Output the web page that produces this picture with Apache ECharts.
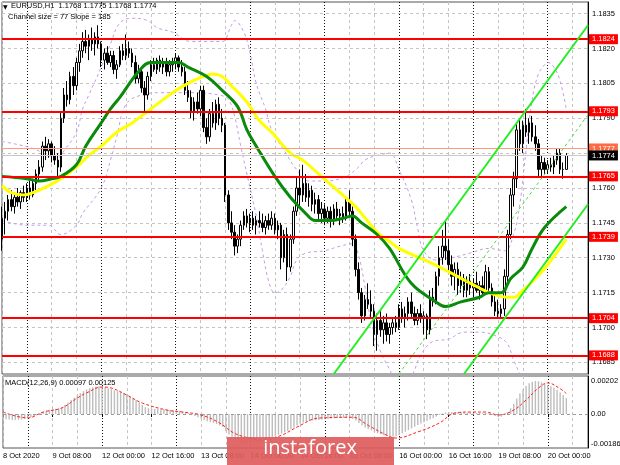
<!DOCTYPE html>
<html><head><meta charset="utf-8">
<script src="https://cdn.jsdelivr.net/npm/echarts@6/dist/echarts.min.js"></script>
<style>html,body{margin:0;padding:0;background:#fff}#c{width:620px;height:465px}</style>
</head><body><div id="c"></div>
<script>
// ---------- categories (hourly H1 bars) ----------
const days = [['8 Oct',16,23],['9 Oct',0,23],['12 Oct',0,23],['13 Oct',0,23],['14 Oct',0,23],['15 Oct',0,23],['16 Oct',0,23],['19 Oct',0,23],['20 Oct',0,13]];
const categories = [];
days.forEach(d => { for (let h = d[1]; h <= d[2]; h++) categories.push(d[0] + ' ' + (h < 10 ? '0' : '') + h + ':00'); });
const xTickLabels = ['8 Oct 2020','9 Oct 08:00','12 Oct 00:00','12 Oct 16:00','13 Oct 08:00','14 Oct 00:00','14 Oct 16:00','15 Oct 08:00','16 Oct 00:00','16 Oct 16:00','19 Oct 08:00','20 Oct 00:00'];

// ---------- OHLC ----------
const open = [
1.1738,1.1747,1.1750,1.1755,1.1752,1.1756,1.1754,1.1758,1.1756,1.1760,
1.1757,1.1762,1.1766,1.1769,1.1778,1.1776,1.1779,1.1774,1.1772,1.1769,
1.1790,1.1800,1.1798,1.1808,1.1804,1.1814,1.1819,1.1823,1.1821,1.1824,
1.1822,1.1825,1.1822,1.1815,1.1818,1.1814,1.1817,1.1811,1.1813,1.1819,
1.1817,1.1820,1.1818,1.1814,1.1807,1.1810,1.1803,1.1800,1.1808,1.1813,
1.1811,1.1815,1.1812,1.1814,1.1810,1.1813,1.1814,1.1816,1.1812,1.1810,
1.1802,1.1799,1.1793,1.1797,1.1794,1.1802,1.1786,1.1782,1.1792,1.1788,
1.1796,1.1790,1.1787,1.1757,1.1745,1.1741,1.1735,1.1738,1.1744,1.1748,
1.1745,1.1747,1.1744,1.1746,1.1745,1.1743,1.1746,1.1744,1.1747,1.1742,
1.1744,1.1730,1.1740,1.1726,1.1738,1.1750,1.1760,1.1757,1.1762,1.1756,
1.1759,1.1753,1.1755,1.1749,1.1751,1.1747,1.1750,1.1746,1.1751,1.1748,
1.1749,1.1747,1.1754,1.1750,1.1738,1.1725,1.1715,1.1705,1.1712,1.1710,
1.1707,1.1697,1.1703,1.1699,1.1702,1.1697,1.1700,1.1702,1.1700,1.1708,
1.1704,1.1706,1.1711,1.1706,1.1703,1.1706,1.1704,1.1705,1.1699,1.1713,
1.1711,1.1722,1.1730,1.1735,1.1733,1.1727,1.1722,1.1725,1.1718,1.1721,
1.1716,1.1720,1.1717,1.1719,1.1716,1.1718,1.1715,1.1724,1.1717,1.1711,
1.1707,1.1706,1.1708,1.1722,1.1740,1.1757,1.1764,1.1785,1.1779,1.1787,
1.1784,1.1788,1.1782,1.1779,1.1768,1.1771,1.1768,1.1770,1.1769,1.1772,
1.1775,1.1768,1.1768];
const high = [
1.1752,1.1754,1.1757,1.1759,1.1758,1.1760,1.1759,1.1761,1.1762,1.1763,
1.1764,1.1768,1.1772,1.1780,1.1782,1.1781,1.1780,1.1778,1.1775,1.1793,
1.1803,1.1806,1.1810,1.1812,1.1816,1.1822,1.1827,1.1828,1.1826,1.1829,
1.1827,1.1830,1.1823,1.1820,1.1821,1.1819,1.1819,1.1815,1.1821,1.1822,
1.1826,1.1823,1.1820,1.1817,1.1813,1.1812,1.1806,1.1810,1.1815,1.1816,
1.1816,1.1817,1.1816,1.1816,1.1815,1.1816,1.1818,1.1817,1.1815,1.1812,
1.1806,1.1802,1.1799,1.1801,1.1804,1.1804,1.1790,1.1794,1.1797,1.1798,
1.1799,1.1794,1.1788,1.1759,1.1750,1.1744,1.1740,1.1746,1.1750,1.1751,
1.1749,1.1750,1.1748,1.1750,1.1749,1.1748,1.1749,1.1750,1.1749,1.1746,
1.1745,1.1742,1.1743,1.1740,1.1752,1.1765,1.1768,1.1770,1.1766,1.1762,
1.1761,1.1758,1.1757,1.1754,1.1753,1.1752,1.1752,1.1753,1.1754,1.1751,
1.1752,1.1756,1.1759,1.1752,1.1740,1.1728,1.1717,1.1714,1.1719,1.1716,
1.1710,1.1706,1.1707,1.1705,1.1706,1.1702,1.1704,1.1705,1.1710,1.1711,
1.1709,1.1713,1.1715,1.1709,1.1708,1.1710,1.1707,1.1706,1.1716,1.1717,
1.1724,1.1735,1.1742,1.1746,1.1738,1.1731,1.1728,1.1728,1.1724,1.1723,
1.1722,1.1723,1.1721,1.1724,1.1720,1.1722,1.1727,1.1726,1.1719,1.1714,
1.1712,1.1710,1.1725,1.1742,1.1760,1.1767,1.1788,1.1790,1.1789,1.1794,
1.1790,1.1791,1.1787,1.1781,1.1774,1.1773,1.1772,1.1773,1.1774,1.1777,
1.1777,1.1771,1.1775];
const low = [
1.1733,1.1740,1.1746,1.1750,1.1749,1.1752,1.1751,1.1754,1.1754,1.1755,
1.1756,1.1759,1.1763,1.1767,1.1772,1.1773,1.1771,1.1770,1.1765,1.1767,
1.1788,1.1795,1.1796,1.1800,1.1802,1.1810,1.1816,1.1818,1.1815,1.1819,
1.1817,1.1820,1.1812,1.1811,1.1813,1.1812,1.1809,1.1807,1.1812,1.1815,
1.1815,1.1816,1.1812,1.1805,1.1805,1.1801,1.1792,1.1798,1.1806,1.1810,
1.1809,1.1810,1.1809,1.1808,1.1808,1.1810,1.1811,1.1810,1.1808,1.1800,
1.1797,1.1790,1.1789,1.1792,1.1791,1.1784,1.1779,1.1780,1.1786,1.1785,
1.1787,1.1784,1.1754,1.1742,1.1738,1.1731,1.1732,1.1735,1.1742,1.1743,
1.1741,1.1742,1.1740,1.1743,1.1741,1.1740,1.1742,1.1742,1.1740,1.1738,
1.1725,1.1728,1.1720,1.1724,1.1736,1.1748,1.1752,1.1754,1.1754,1.1752,
1.1750,1.1749,1.1746,1.1745,1.1744,1.1745,1.1743,1.1744,1.1746,1.1744,
1.1745,1.1746,1.1748,1.1735,1.1722,1.1712,1.1702,1.1703,1.1708,1.1704,
1.1692,1.1690,1.1696,1.1693,1.1694,1.1693,1.1697,1.1698,1.1699,1.1702,
1.1700,1.1703,1.1704,1.1701,1.1701,1.1702,1.1697,1.1695,1.1697,1.1709,
1.1710,1.1718,1.1727,1.1729,1.1724,1.1718,1.1716,1.1714,1.1715,1.1713,
1.1713,1.1714,1.1713,1.1715,1.1712,1.1714,1.1714,1.1715,1.1709,1.1705,
1.1704,1.1704,1.1705,1.1720,1.1738,1.1752,1.1760,1.1776,1.1775,1.1782,
1.1779,1.1780,1.1776,1.1765,1.1765,1.1766,1.1766,1.1767,1.1766,1.1770,
1.1766,1.1764,1.1768];
const close = [
1.1747,1.1750,1.1755,1.1752,1.1756,1.1754,1.1758,1.1756,1.1760,1.1757,
1.1762,1.1766,1.1769,1.1778,1.1776,1.1779,1.1774,1.1772,1.1769,1.1790,
1.1800,1.1798,1.1808,1.1804,1.1814,1.1819,1.1823,1.1821,1.1824,1.1822,
1.1825,1.1822,1.1815,1.1818,1.1814,1.1817,1.1811,1.1813,1.1819,1.1817,
1.1820,1.1818,1.1814,1.1807,1.1810,1.1803,1.1800,1.1808,1.1813,1.1811,
1.1815,1.1812,1.1814,1.1810,1.1813,1.1814,1.1816,1.1812,1.1810,1.1802,
1.1799,1.1793,1.1797,1.1794,1.1802,1.1786,1.1782,1.1792,1.1788,1.1796,
1.1790,1.1787,1.1757,1.1745,1.1741,1.1735,1.1738,1.1744,1.1748,1.1745,
1.1747,1.1744,1.1746,1.1745,1.1743,1.1746,1.1744,1.1747,1.1742,1.1744,
1.1730,1.1740,1.1726,1.1738,1.1750,1.1760,1.1757,1.1762,1.1756,1.1759,
1.1753,1.1755,1.1749,1.1751,1.1747,1.1750,1.1746,1.1751,1.1748,1.1749,
1.1747,1.1754,1.1750,1.1738,1.1725,1.1715,1.1705,1.1712,1.1710,1.1707,
1.1697,1.1703,1.1699,1.1702,1.1697,1.1700,1.1702,1.1700,1.1708,1.1704,
1.1706,1.1711,1.1706,1.1703,1.1706,1.1704,1.1705,1.1699,1.1713,1.1711,
1.1722,1.1730,1.1735,1.1733,1.1727,1.1722,1.1725,1.1718,1.1721,1.1716,
1.1720,1.1717,1.1719,1.1716,1.1718,1.1715,1.1724,1.1717,1.1711,1.1707,
1.1706,1.1708,1.1722,1.1740,1.1757,1.1764,1.1785,1.1779,1.1787,1.1784,
1.1788,1.1782,1.1779,1.1768,1.1771,1.1768,1.1770,1.1769,1.1772,1.1775,
1.1768,1.1768,1.1774];

// ---------- indicator lines [barIndex, price] ----------
const greenMA = [[0,1.1765],[8,1.1764],[12,1.1763],[16,1.1764],[19,1.1765],[24,1.1770],[27,1.1778],[32,1.1788],[35,1.1794],[38,1.1799],[44,1.1810],[48,1.1814],[52,1.1814],[57,1.1814],[60,1.1812],[66,1.1808],[71,1.1802],[76,1.1795],[79,1.1785],[82,1.1778],[88,1.1765],[93,1.1756],[98,1.1749],[101,1.1746],[106,1.1746],[110,1.1747],[113,1.1748],[116,1.1745],[121,1.1740],[125,1.1734],[132,1.1719],[140,1.1711],[143,1.1709],[148,1.1711],[154,1.1713],[157,1.1715],[161,1.1715],[164,1.1721],[168,1.1726],[171,1.1734],[175,1.1743],[182,1.1752]];
const yellowMA = [[0,1.1761],[3,1.1758],[7,1.1757],[10,1.1758],[15,1.1761],[19,1.1764],[24,1.1769],[28,1.1774],[32,1.1778],[37,1.1784],[42,1.1788],[48,1.1794],[55,1.1801],[60,1.1805],[65,1.1808],[68,1.1809],[71,1.1808],[74,1.1804],[79,1.1797],[83,1.1789],[87,1.1784],[93,1.1775],[97,1.1772],[103,1.1765],[109,1.1758],[114,1.1752],[121,1.1741],[125,1.1737],[128,1.1734],[138,1.1728],[144,1.1724],[154,1.1717],[159,1.1714],[163,1.1713],[165,1.1713],[168,1.1716],[172,1.1721],[176,1.1727],[182,1.1738]];
const bandUpper = [[0,1.1780],[4,1.1779],[10,1.1777],[15,1.1774],[18,1.1773],[20,1.1776],[24,1.1784],[26,1.1794],[28,1.1800],[32,1.1812],[35,1.1822],[38,1.1831],[42,1.1833],[47,1.1832],[50,1.1829],[55,1.1827],[61,1.1823],[67,1.1823],[71,1.1823],[74,1.1830],[75,1.1832],[78,1.1827],[80,1.1818],[82,1.1805],[85,1.1794],[87,1.1785],[92,1.1774],[95,1.1768],[99,1.1763],[104,1.1763],[111,1.1765],[115,1.1769],[117,1.1772],[121,1.1774],[125,1.1775],[128,1.1768],[132,1.1755],[134,1.1743],[136,1.1733],[140,1.1729],[145,1.1730],[151,1.1732],[157,1.1734],[162,1.1733],[165,1.1740],[167,1.1753],[169,1.1776],[171,1.1798],[173,1.1809],[175,1.1813],[176,1.1814],[178,1.1812],[180,1.1806],[182,1.1794]];
const bandLower = [[0,1.1746],[8,1.1744],[15,1.1744],[19,1.1740],[24,1.1744],[26,1.1749],[32,1.1760],[35,1.1772],[37,1.1782],[40,1.1796],[45,1.1800],[51,1.1801],[61,1.1801],[70,1.1800],[73,1.1798],[75,1.1791],[77,1.1778],[80,1.1760],[82,1.1748],[84,1.1733],[86,1.1720],[88,1.1715],[90,1.1716],[93,1.1722],[95,1.1729],[98,1.1732],[104,1.1733],[109,1.1735],[113,1.1736],[115,1.1731],[117,1.1718],[119,1.1703],[122,1.1690],[125,1.1682],[128,1.1675],[132,1.1679],[135,1.1688],[139,1.1694],[144,1.1695],[149,1.1698],[154,1.1698],[160,1.1696],[163,1.1693],[165,1.1686],[168,1.1677],[170,1.1669],[176,1.1660],[182,1.1664]];
const channelUpper = [[107,1.1680],[189,1.1830]];
const channelMiddle = [[128,1.1680],[189,1.17915]];
const channelLower = [[149,1.1680],[189,1.1753]];

// ---------- horizontal levels ----------
const levels = [1.1824, 1.1793, 1.1765, 1.1739, 1.1704, 1.1688];
const askPrice = 1.1777;
const bidPrice = 1.1774;

// ---------- MACD ----------
const macdHist = [
-0.00030,-0.00032,-0.00034,-0.00036,-0.00036,-0.00035,-0.00034,-0.00030,-0.00026,-0.00020,
-0.00012,-0.00004,0.00004,0.00012,0.00020,0.00026,0.00030,0.00032,0.00034,0.00040,
0.00055,0.00070,0.00085,0.00100,0.00115,0.00128,0.00140,0.00150,0.00158,0.00164,
0.00168,0.00170,0.00168,0.00164,0.00158,0.00152,0.00146,0.00140,0.00134,0.00128,
0.00120,0.00110,0.00098,0.00085,0.00070,0.00055,0.00042,0.00036,0.00032,0.00030,
0.00030,0.00029,0.00028,0.00027,0.00025,0.00024,0.00022,0.00020,0.00016,0.00010,
0.00004,-0.00004,-0.00012,-0.00020,-0.00028,-0.00036,-0.00044,-0.00050,-0.00056,-0.00062,
-0.00070,-0.00080,-0.00105,-0.00125,-0.00140,-0.00155,-0.00166,-0.00175,-0.00181,-0.00185,
-0.00186,-0.00184,-0.00180,-0.00174,-0.00166,-0.00158,-0.00150,-0.00142,-0.00134,-0.00126,
-0.00120,-0.00112,-0.00104,-0.00094,-0.00082,-0.00070,-0.00060,-0.00052,-0.00046,-0.00042,
-0.00040,-0.00038,-0.00036,-0.00034,-0.00032,-0.00030,-0.00028,-0.00026,-0.00025,-0.00024,
-0.00024,-0.00022,-0.00024,-0.00030,-0.00040,-0.00055,-0.00070,-0.00082,-0.00092,-0.00100,
-0.00110,-0.00118,-0.00124,-0.00130,-0.00134,-0.00137,-0.00138,-0.00136,-0.00128,-0.00118,
-0.00108,-0.00098,-0.00088,-0.00078,-0.00068,-0.00058,-0.00050,-0.00042,-0.00034,-0.00026,
-0.00016,-0.00006,0.00004,0.00010,0.00012,0.00012,0.00011,0.00010,0.00010,0.00009,
0.00008,0.00008,0.00007,0.00006,0.00006,0.00005,0.00006,0.00004,-0.00004,-0.00012,
-0.00018,-0.00016,-0.00006,0.00010,0.00035,0.00062,0.00095,0.00125,0.00150,0.00172,
0.00188,0.00198,0.00202,0.00200,0.00194,0.00186,0.00178,0.00170,0.00160,0.00148,
0.00132,0.00116,0.00097];
const macdSignal = [[0,0.00012],[8,-0.00024],[13,0.00012],[19,0.00037],[24,0.00098],[27,0.00129],[32,0.00165],[35,0.00159],[40,0.00116],[45,0.00067],[53,0.00024],[58,0.00012],[64,-0.00006],[70,-0.00055],[74,-0.0011],[78,-0.0014],[84,-0.0016],[90,-0.0013],[95,-0.0008],[102,-0.00025],[113,-0.0002],[118,-0.0007],[124,-0.0013],[127,-0.00147],[134,-0.0011],[141,-0.00055],[146,0.00006],[151,0.00012],[156,0.00012],[160,-0.00006],[165,0.00024],[169,0.00086],[173,0.00159],[176,0.0019],[180,0.00155],[182,0.00125]];
const macdScaleLabels = [['0.00202',0.00202],['0.00',0],['-0.00186',-0.00186]];

// ---------- chart ----------
const FONT = 'Liberation Sans, Arial, sans-serif';
const chart = echarts.init(document.getElementById('c'), null, {renderer:'canvas'});
const lightSplit = {show:true, interval:(i)=> i % 8 === 0 && i % 24 !== 8, lineStyle:{color:'#c4c4c4', type:[3,3], width:1}};
const darkSplit = {show:true, interval:(i)=> i % 24 === 8, lineStyle:{color:'#111', type:[1,2], width:1}};
function catAxis(grid, split, withLabels) {
  return {type:'category', gridIndex:grid, data:categories, boundaryGap:false,
    axisLine:{show:false},
    axisTick: withLabels ? {show:true, interval:(i)=> i % 16 === 0, length:3, inside:false, lineStyle:{color:'#000'}} : {show:false},
    axisLabel: withLabels ? {show:true, interval:(i)=> i % 16 === 0 && i <= 176, align:'left', margin:4,
      fontSize:7.5, fontFamily:FONT, color:'#000', formatter:(v, i)=> xTickLabels[Math.round(i/16)] || ''} : {show:false},
    splitLine: split};
}
function levelLabel(bg, fg, v) {
  return {show:true, position:'end', distance:1, formatter: v.toFixed(4),
    color:fg, backgroundColor:bg, fontSize:7.5, fontFamily:FONT, padding:[1,3,0,3], lineHeight:9};
}
const levelData = levels.map(v => ({yAxis:v, lineStyle:{color:'#ff0000', width:2, type:'solid'}, label:levelLabel('#ff0000','#fff',v)}));
levelData.push({yAxis:askPrice, lineStyle:{color:'#ff9a7a', width:1, type:'solid'}, label:levelLabel('#ff6a45','#fff',askPrice)});
levelData.push({yAxis:bidPrice, lineStyle:{color:'#c8c8c8', width:1, type:'solid'}, label:levelLabel('#000','#fff',bidPrice)});

const option = {
  animation:false,
  backgroundColor:'#fff',
  grid:[
    {left:2, right:32, top:2, height:372, show:true, borderColor:'#555', borderWidth:1},
    {left:2, right:32, top:376, height:72, show:true, borderColor:'#555', borderWidth:1}
  ],
  xAxis:[catAxis(0, lightSplit, false), catAxis(0, darkSplit, false), catAxis(1, lightSplit, true), catAxis(1, darkSplit, false)],
  yAxis:[
    {type:'value', gridIndex:0, min:1.1680, max:1.1840, interval:0.0005, position:'right',
      axisLine:{show:true, lineStyle:{color:'#000'}}, axisTick:{show:false},
      axisLabel:{margin:4, fontSize:7.5, fontFamily:FONT, color:'#000',
        formatter:(v)=>{const k=(v-1.1685)/0.0015; return Math.abs(k-Math.round(k))<1e-6 ? v.toFixed(4) : '';}},
      splitLine:{show:true, lineStyle:{color:['rgba(0,0,0,0)','#c4c4c4','rgba(0,0,0,0)'], type:[3,3], width:1}}},
    {type:'value', gridIndex:1, min:-0.002081, max:0.002326, position:'right',
      axisLine:{show:true, lineStyle:{color:'#000'}}, axisTick:{show:false}, axisLabel:{show:false}, splitLine:{show:false}}
  ],
  graphic:[
    {type:'text', left:3, top:4, z:100, style:{text:'\u25BC', fontSize:6, fill:'#000', fontFamily:'DejaVu Sans'}},
    {type:'text', left:11, top:2, z:100, style:{text:'EURUSD,H1  1.1768 1.1775 1.1768 1.1774', fontSize:7.5, fill:'#000', fontFamily:FONT}},
    {type:'text', left:8, top:13, z:100, style:{text:'Channel size = 77 Slope = 185', fontSize:7.5, fill:'#000', fontFamily:FONT}},
    {type:'text', left:5, top:379, z:100, style:{text:'MACD(12,26,9) 0.00097 0.00125', fontSize:7.5, fill:'#000', fontFamily:FONT}},
    {type:'rect', left:227, top:437, z:100, shape:{width:167, height:28}, style:{fill:'rgba(222,92,92,0.92)'}},
    {type:'text', left:'center', top:438, z:101, style:{text:'instaforex', fontSize:20, fill:'#fff', fontFamily:'Open Sans, Lato, sans-serif'}}
  ],
  series:[
    {type:'line', name:'bandUpper', xAxisIndex:0, yAxisIndex:0, data:bandUpper, smooth:0.4, showSymbol:false, silent:true, z:2,
      lineStyle:{color:'#c49be8', width:1, type:[3,3]}},
    {type:'line', name:'bandLower', xAxisIndex:0, yAxisIndex:0, data:bandLower, smooth:0.4, showSymbol:false, silent:true, z:2,
      lineStyle:{color:'#c49be8', width:1, type:[3,3]}},
    {type:'candlestick', xAxisIndex:0, yAxisIndex:0, barWidth:2, silent:true, z:3,
      data: open.map((o,i)=>[o, close[i], low[i], high[i]]),
      itemStyle:{color:'#fff', color0:'#000', borderColor:'#000', borderColor0:'#000', borderWidth:1}},
    {type:'line', name:'yellowMA', xAxisIndex:0, yAxisIndex:0, data:yellowMA, smooth:0.4, showSymbol:false, silent:true, z:4,
      lineStyle:{color:'#ffff00', width:3}},
    {type:'line', name:'greenMA', xAxisIndex:0, yAxisIndex:0, data:greenMA, smooth:0.4, showSymbol:false, silent:true, z:4,
      lineStyle:{color:'#0a8a0a', width:3}},
    {type:'line', name:'chUp', xAxisIndex:0, yAxisIndex:0, data:channelUpper, showSymbol:false, silent:true, z:5,
      lineStyle:{color:'#22ee22', width:2}},
    {type:'line', name:'chLo', xAxisIndex:0, yAxisIndex:0, data:channelLower, showSymbol:false, silent:true, z:5,
      lineStyle:{color:'#22ee22', width:2}},
    {type:'line', name:'chMid', xAxisIndex:0, yAxisIndex:0, data:channelMiddle, showSymbol:false, silent:true, z:5,
      lineStyle:{color:'#44dd44', width:1, type:[3,3]}},
    {type:'line', name:'levels', xAxisIndex:0, yAxisIndex:0, data:[], silent:true, z:6,
      markLine:{silent:true, symbol:['none','none'], precision:5, animation:false, data:levelData}},
    {type:'bar', name:'macd', xAxisIndex:2, yAxisIndex:1, data:macdHist, barWidth:1.4, silent:true, z:2,
      itemStyle:{color:'#bdbdbd'},
      markLine:{silent:true, symbol:['none','none'], precision:6, animation:false,
        data: macdScaleLabels.map(l => ({yAxis:l[1],
          lineStyle: l[1] === 0 ? {color:'#9a9a9a', width:1, type:[3,3]} : {color:'rgba(0,0,0,0)', width:0},
          label:{show:true, position:'end', distance:3, formatter:l[0], color:'#000', fontSize:7.5, fontFamily:FONT}}))}},
    {type:'line', name:'signal', xAxisIndex:2, yAxisIndex:1, data:macdSignal, smooth:0.4, showSymbol:false, silent:true, z:3,
      lineStyle:{color:'#ff2020', width:1, type:[3,2]}}
  ]
};
chart.setOption(option);
</script></body></html>
